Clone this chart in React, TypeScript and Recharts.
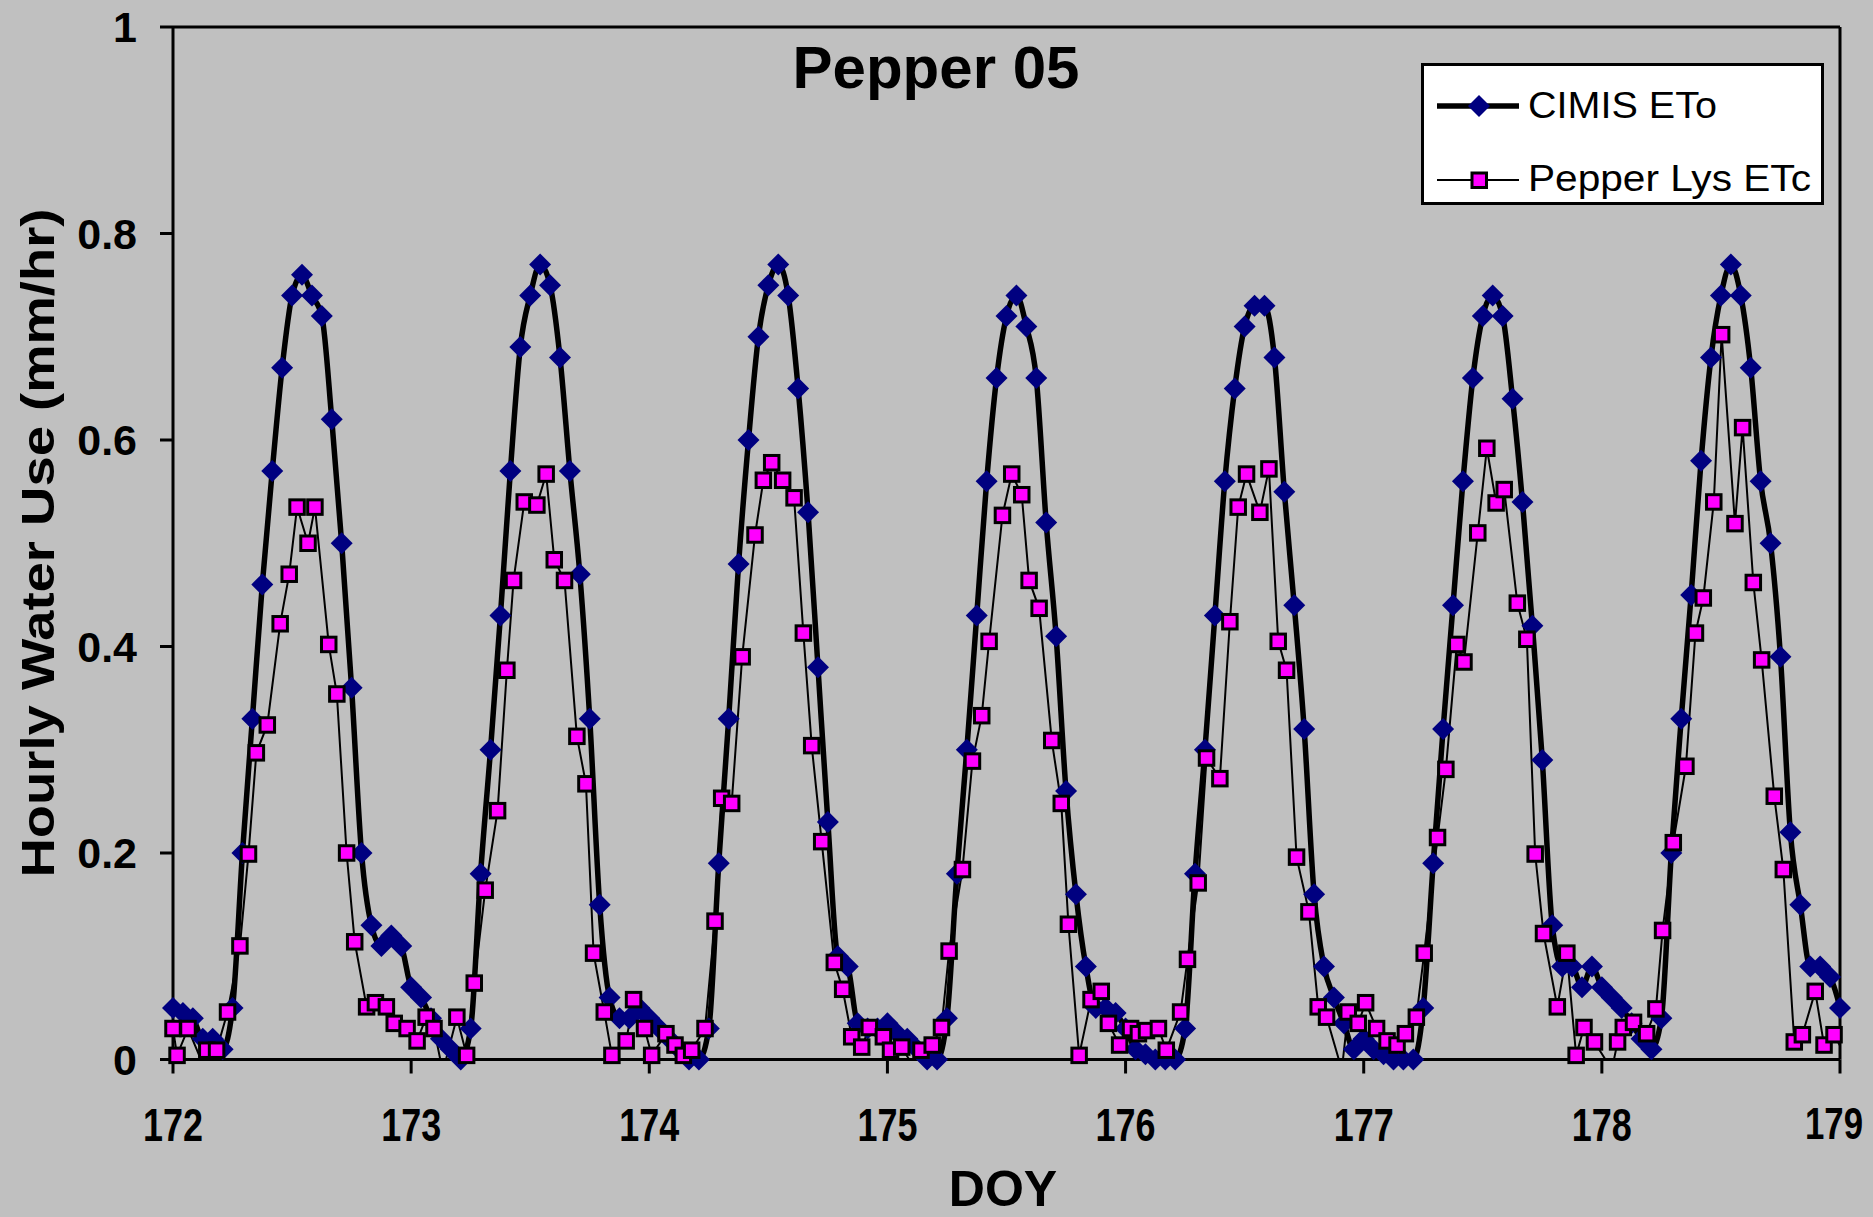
import React from 'react';
import { ComposedChart, Line, XAxis, YAxis, ReferenceLine, Legend, Customized } from 'recharts';

const FONT = "'Liberation Sans', Arial, sans-serif";

const DAYS = [172, 173, 174, 175, 176, 177, 178];
const X_TICKS = [172, 173, 174, 175, 176, 177, 178, 179];
const Y_TICKS = [0, 0.2, 0.4, 0.6, 0.8, 1];

// CIMIS ETo, hourly values (hour 0..23) per day
const cimis172 = [0.05, 0.045, 0.04, 0.02, 0.02, 0.01, 0.05, 0.2, 0.33, 0.46, 0.57, 0.67, 0.74, 0.76, 0.74, 0.72, 0.62, 0.5, 0.36, 0.2, 0.13, 0.11, 0.12, 0.11];
const cimis173 = [0.07, 0.06, 0.04, 0.02, 0.01, 0.0, 0.03, 0.18, 0.3, 0.43, 0.57, 0.69, 0.74, 0.77, 0.75, 0.68, 0.57, 0.47, 0.33, 0.15, 0.06, 0.04, 0.04, 0.05];
const cimis174 = [0.04, 0.03, 0.02, 0.01, 0.0, 0.0, 0.03, 0.19, 0.33, 0.48, 0.6, 0.7, 0.75, 0.77, 0.74, 0.65, 0.53, 0.38, 0.23, 0.1, 0.09, 0.035, 0.03, 0.03];
const cimis175 = [0.035, 0.025, 0.02, 0.01, 0.0, 0.0, 0.04, 0.18, 0.3, 0.43, 0.56, 0.66, 0.72, 0.74, 0.71, 0.66, 0.52, 0.41, 0.26, 0.16, 0.09, 0.05, 0.05, 0.045];
const cimis176 = [0.03, 0.01, 0.005, 0.0, 0.0, 0.0, 0.03, 0.18, 0.3, 0.43, 0.56, 0.65, 0.71, 0.73, 0.73, 0.68, 0.55, 0.44, 0.32, 0.16, 0.09, 0.06, 0.035, 0.01];
const cimis177 = [0.02, 0.01, 0.005, 0.0, 0.0, 0.0, 0.05, 0.19, 0.32, 0.44, 0.56, 0.66, 0.72, 0.74, 0.72, 0.64, 0.54, 0.42, 0.29, 0.13, 0.09, 0.09, 0.07, 0.09];
const cimis178 = [0.07, 0.06, 0.05, 0.035, 0.02, 0.01, 0.04, 0.2, 0.33, 0.45, 0.58, 0.68, 0.74, 0.77, 0.74, 0.67, 0.56, 0.5, 0.39, 0.22, 0.15, 0.09, 0.09, 0.08];
const cimisLead: [number, number][] = [[171.958, 0.07]];
const cimisTail: [number, number][] = [[179.0, 0.05], [179.042, 0.0]];

// Pepper lysimeter ETc: [DOY, value]
const pepper172: [number, number][] = [[172.0, 0.03], [172.017, 0.004], [172.063, 0.03], [172.128, -0.006], [172.142, 0.009], [172.183, 0.009], [172.229, 0.046], [172.281, 0.11], [172.317, 0.199], [172.35, 0.297], [172.396, 0.324], [172.45, 0.422], [172.488, 0.47], [172.521, 0.535], [172.567, 0.5], [172.596, 0.535], [172.654, 0.402], [172.688, 0.354], [172.729, 0.2], [172.763, 0.114], [172.813, 0.051], [172.85, 0.055], [172.896, 0.051], [172.929, 0.035], [172.983, 0.03]];
const pepper173: [number, number][] = [[173.025, 0.018], [173.063, 0.041], [173.096, 0.03], [173.133, -0.012], [173.192, 0.041], [173.233, 0.004], [173.265, 0.074], [173.311, 0.164], [173.363, 0.241], [173.402, 0.377], [173.43, 0.464], [173.475, 0.54], [173.528, 0.537], [173.567, 0.567], [173.601, 0.484], [173.644, 0.464], [173.696, 0.313], [173.734, 0.267], [173.766, 0.103], [173.811, 0.046], [173.843, 0.004], [173.903, 0.018], [173.934, 0.058], [173.98, 0.03]];
const pepper174: [number, number][] = [[174.01, 0.004], [174.07, 0.025], [174.108, 0.014], [174.143, 0.004], [174.178, 0.009], [174.234, 0.03], [174.276, 0.134], [174.304, 0.253], [174.346, 0.248], [174.39, 0.39], [174.444, 0.508], [174.479, 0.561], [174.514, 0.578], [174.56, 0.561], [174.608, 0.544], [174.647, 0.413], [174.682, 0.304], [174.724, 0.211], [174.777, 0.094], [174.812, 0.068], [174.85, 0.022], [174.892, 0.012], [174.924, 0.031], [174.983, 0.022]];
const pepper175: [number, number][] = [[175.013, 0.009], [175.06, 0.012], [175.117, -0.01], [175.141, 0.009], [175.188, 0.014], [175.227, 0.031], [175.259, 0.105], [175.315, 0.184], [175.357, 0.289], [175.396, 0.333], [175.427, 0.405], [175.483, 0.527], [175.522, 0.567], [175.564, 0.547], [175.595, 0.464], [175.637, 0.437], [175.69, 0.309], [175.73, 0.248], [175.76, 0.131], [175.805, 0.004], [175.855, 0.058], [175.898, 0.066], [175.928, 0.035], [175.975, 0.014]];
const pepper176: [number, number][] = [[176.021, 0.03], [176.054, 0.025], [176.088, 0.028], [176.138, 0.03], [176.171, 0.009], [176.231, 0.046], [176.26, 0.097], [176.305, 0.171], [176.34, 0.292], [176.396, 0.272], [176.438, 0.424], [176.473, 0.535], [176.508, 0.567], [176.564, 0.53], [176.602, 0.572], [176.641, 0.405], [176.676, 0.377], [176.718, 0.196], [176.77, 0.143], [176.809, 0.051], [176.844, 0.041], [176.908, -0.01], [176.935, 0.046], [176.977, 0.035]];
const pepper177: [number, number][] = [[177.008, 0.055], [177.054, 0.03], [177.098, 0.018], [177.14, 0.014], [177.175, 0.025], [177.221, 0.041], [177.254, 0.103], [177.31, 0.215], [177.345, 0.281], [177.391, 0.402], [177.421, 0.385], [177.479, 0.51], [177.517, 0.592], [177.556, 0.539], [177.59, 0.552], [177.645, 0.442], [177.685, 0.407], [177.72, 0.199], [177.755, 0.122], [177.813, 0.051], [177.853, 0.103], [177.892, 0.004], [177.925, 0.031], [177.969, 0.017]];
const pepper178: [number, number][] = [[178.042, -0.01], [178.066, 0.017], [178.09, 0.031], [178.133, 0.036], [178.188, 0.025], [178.227, 0.049], [178.255, 0.125], [178.3, 0.21], [178.353, 0.284], [178.393, 0.413], [178.426, 0.447], [178.47, 0.54], [178.503, 0.702], [178.559, 0.519], [178.591, 0.612], [178.636, 0.462], [178.671, 0.387], [178.724, 0.255], [178.762, 0.184], [178.808, 0.017], [178.842, 0.024], [178.896, 0.066], [178.933, 0.014], [178.975, 0.024]];
const pepperTail: [number, number][] = [[179.02, 0.005]];

const cimisByDay = [cimis172, cimis173, cimis174, cimis175, cimis176, cimis177, cimis178];
const pepperByDay = [pepper172, pepper173, pepper174, pepper175, pepper176, pepper177, pepper178];

type Pt = { x: number; y: number };
const toPts = (arr: [number, number][]): Pt[] => arr.map(([x, y]) => ({ x, y }));

const cimisHourly: Pt[] = DAYS.flatMap((d, i) => cimisByDay[i].map((v, h) => ({ x: d + h / 24, y: v })));
const cimisLineData: Pt[] = [...toPts(cimisLead), ...cimisHourly, ...toPts(cimisTail)];
const inRange = (p: Pt) => p.x >= 172 && p.x <= 179 && p.y >= 0 && p.y <= 1;
const cimisDotData: Pt[] = cimisLineData.filter(inRange);

const pepperAll: Pt[] = pepperByDay.flatMap((a) => toPts(a));
const pepperLineData: Pt[] = [...pepperAll, ...toPts(pepperTail)];
const pepperDotData: Pt[] = pepperLineData.filter(inRange);

const Diamond = (props: any) => {
  const { cx, cy, index } = props;
  if (cx == null || cy == null || isNaN(cx) || isNaN(cy)) return <g key={`d${index}`} />;
  const r = 11;
  return (
    <polygon
      key={`d${index}`}
      points={`${cx},${cy - r} ${cx + r},${cy} ${cx},${cy + r} ${cx - r},${cy}`}
      fill="#000080"
    />
  );
};

const Square = (props: any) => {
  const { cx, cy, index } = props;
  if (cx == null || cy == null || isNaN(cx) || isNaN(cy)) return <g key={`s${index}`} />;
  const s = 14.5;
  return (
    <rect key={`s${index}`} x={cx - s / 2} y={cy - s / 2} width={s} height={s} fill="#FF00FF" stroke="#000" strokeWidth={3} />
  );
};

const XTick = (props: any) => {
  const { x, y, payload } = props;
  const last = payload.value === X_TICKS[X_TICKS.length - 1];
  return (
    <text
      x={last ? x + 23 : x}
      y={y}
      dy="0.71em"
      textAnchor={last ? 'end' : 'middle'}
      fontFamily={FONT}
      fontSize={last ? 44 : 47}
      fontWeight="bold"
      fill="#000"
      textLength={last ? 58 : 60}
      lengthAdjust="spacingAndGlyphs"
    >
      {String(payload.value)}
    </text>
  );
};

const LegendBox = () => (
  <svg width={403} height={142} style={{ display: 'block' }}>
    <rect x={1.5} y={1.5} width={400} height={139} fill="#FFFFFF" stroke="#000" strokeWidth={3} />
    <line x1={16} y1={43} x2={98} y2={43} stroke="#000" strokeWidth={5.5} />
    <polygon points="58,32 69,43 58,54 47,43" fill="#000080" />
    <text x={107} y={55} fontFamily={FONT} fontSize={37} fill="#000" textLength={189} lengthAdjust="spacingAndGlyphs">
      CIMIS ETo
    </text>
    <line x1={16} y1={117} x2={98} y2={117} stroke="#000" strokeWidth={2} />
    <rect x={51} y={110} width={14.5} height={14.5} fill="#FF00FF" stroke="#000" strokeWidth={3} />
    <text x={107} y={128} fontFamily={FONT} fontSize={37} fill="#000" textLength={283} lengthAdjust="spacingAndGlyphs">
      Pepper Lys ETc
    </text>
  </svg>
);

const Texts = () => (
  <g>
    <text x={936} y={88} textAnchor="middle" fontFamily={FONT} fontSize={60} fontWeight="bold" fill="#000">
      Pepper 05
    </text>
    <text
      x={38}
      y={543}
      transform="rotate(-90, 38, 543)"
      textAnchor="middle"
      dominantBaseline="central"
      fontFamily={FONT}
      fontSize={46}
      fontWeight="bold"
      fill="#000"
      textLength={669}
      lengthAdjust="spacingAndGlyphs"
    >
      Hourly Water Use (mm/hr)
    </text>
    <text x={1003} y={1206} textAnchor="middle" fontFamily={FONT} fontSize={50} fontWeight="bold" fill="#000">
      DOY
    </text>
  </g>
);

export default function App() {
  return (
    <div style={{ position: 'absolute', left: 0, top: 0, width: 1873, height: 1217, background: '#C0C0C0', overflow: 'hidden' }}>
      <ComposedChart width={1873} height={1217} margin={{ top: 27, right: 33, left: 0, bottom: 0 }}>
        <XAxis
          xAxisId="main"
          type="number"
          dataKey="x"
          domain={[172, 179]}
          ticks={X_TICKS}
          interval={0}
          height={157.5}
          tickSize={14}
          tickMargin={34}
          axisLine={{ stroke: '#000', strokeWidth: 3 }}
          tickLine={{ stroke: '#000', strokeWidth: 3 }}
          tick={XTick}
        />
        <YAxis
          yAxisId="main"
          type="number"
          domain={[0, 1]}
          ticks={Y_TICKS}
          interval={0}
          width={173}
          tickSize={13}
          tickMargin={23}
          axisLine={{ stroke: '#000', strokeWidth: 3 }}
          tickLine={{ stroke: '#000', strokeWidth: 3 }}
          tick={{ fontSize: 43, fontWeight: 'bold', fill: '#000', fontFamily: FONT }}
        />
        <XAxis xAxisId="clip" type="number" dataKey="x" domain={[172, 179]} allowDataOverflow hide height={0} />
        <YAxis yAxisId="clip" type="number" domain={[0, 1]} allowDataOverflow hide width={0} />

        <ReferenceLine xAxisId="main" yAxisId="main" y={1} stroke="#000" strokeWidth={3} />
        <ReferenceLine xAxisId="main" yAxisId="main" x={179} stroke="#000" strokeWidth={3} />

        <Line
          name="CIMIS ETo line"
          data={cimisLineData}
          dataKey="y"
          xAxisId="clip"
          yAxisId="clip"
          type="monotone"
          stroke="#000"
          strokeWidth={5.5}
          dot={false}
          activeDot={false}
          legendType="none"
          isAnimationActive={false}
        />
        <Line
          name="CIMIS ETo"
          data={cimisDotData}
          dataKey="y"
          xAxisId="main"
          yAxisId="main"
          stroke="none"
          strokeWidth={0}
          dot={Diamond}
          activeDot={false}
          isAnimationActive={false}
        />
        <Line
          name="Pepper Lys ETc line"
          data={pepperLineData}
          dataKey="y"
          xAxisId="clip"
          yAxisId="clip"
          type="linear"
          stroke="#000"
          strokeWidth={2}
          dot={false}
          activeDot={false}
          legendType="none"
          isAnimationActive={false}
        />
        <Line
          name="Pepper Lys ETc"
          data={pepperDotData}
          dataKey="y"
          xAxisId="main"
          yAxisId="main"
          stroke="none"
          strokeWidth={0}
          dot={Square}
          activeDot={false}
          isAnimationActive={false}
        />
        <Legend
          layout="vertical"
          align="center"
          verticalAlign="middle"
          wrapperStyle={{ left: 1421, top: 63, width: 403, height: 142, margin: 0, padding: 0 }}
          content={() => <LegendBox />}
        />
        <Customized component={Texts} />
      </ComposedChart>
    </div>
  );
}
